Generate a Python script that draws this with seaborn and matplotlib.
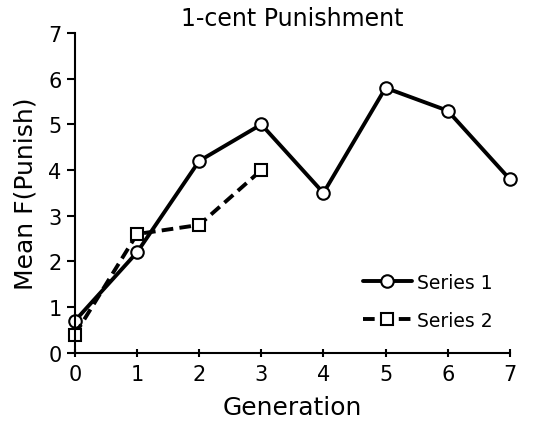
import seaborn as sns
import pandas as pd
import matplotlib.pyplot as plt

# values
gen1 = [0, 1, 2, 3, 4, 5, 6, 7]
series1 = [0.7, 2.2, 4.2, 5.0, 3.5, 5.8, 5.3, 3.8]
gen2 = [0, 1, 2, 3]
series2 = [0.4, 2.6, 2.8, 4.0]

df = pd.concat([
    pd.DataFrame({"Generation": gen1, "F": series1, "series": "Series 1"}),
    pd.DataFrame({"Generation": gen2, "F": series2, "series": "Series 2"}),
])

sns.set_style("ticks")
plt.rcParams["font.family"] = ["DejaVu Sans"]
plt.rcParams["text.color"] = "black"
plt.rcParams["axes.labelcolor"] = "black"
plt.rcParams["xtick.color"] = "black"
plt.rcParams["ytick.color"] = "black"

fig = plt.figure(figsize=(5.35, 4.31), dpi=100)
ax = fig.add_axes([0.140, 0.179, 0.813, 0.742])

sns.lineplot(data=df, x="Generation", y="F", hue="series", style="series",
             palette=["black", "black"], markers=["o", "s"],
             dashes=[(None, None), (3, 1.6)], linewidth=2.8,
             markersize=9, markerfacecolor="white", markeredgecolor="black",
             markeredgewidth=1.5, ax=ax)

ax.set_xlim(0, 7)
ax.set_ylim(0, 7)
ax.set_xticks(range(8))
ax.set_yticks(range(8))
ax.tick_params(labelsize=15, width=1.5, length=6, colors="black")
ax.tick_params(axis="x", direction="inout", pad=5)
for s in ["left", "bottom"]:
    ax.spines[s].set_linewidth(1.5)
    ax.spines[s].set_color("black")
sns.despine(ax=ax)
for ln in ax.lines:
    ln.set_clip_on(False)

ax.set_xlabel("Generation", fontsize=18, labelpad=8, color="black")
ax.set_ylabel("Mean F(Punish)", fontsize=18, labelpad=8, color="black")
ax.set_title("1-cent Punishment", fontsize=17, pad=6, color="black")

leg = ax.legend(loc="lower right", bbox_to_anchor=(1.0, 0.02), frameon=False,
                fontsize=13.5, handlelength=2.6, handletextpad=0.3,
                labelspacing=1.0, title=None)
for t in leg.get_texts():
    t.set_color("black")

fig.savefig("out.png", dpi=100)
